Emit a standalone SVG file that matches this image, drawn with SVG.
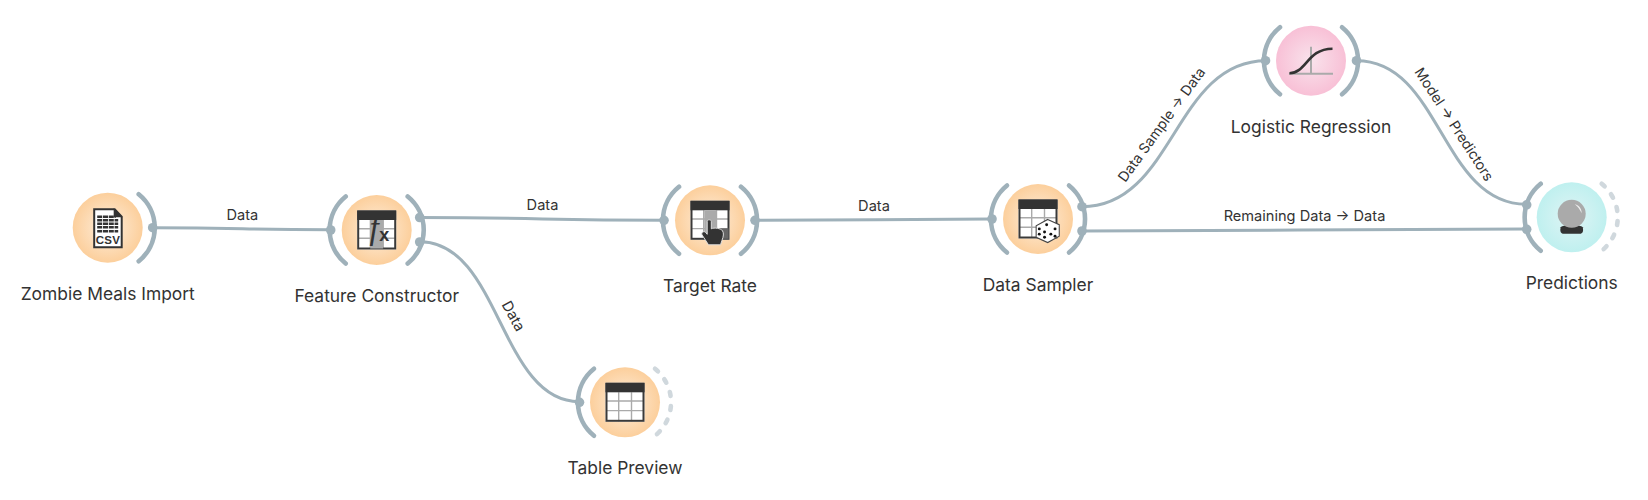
<svg xmlns="http://www.w3.org/2000/svg" width="1648" height="500" viewBox="0 0 1648 500">
<style>
text{font-family:Inter,"Liberation Sans",sans-serif;fill:#333}
.nl{font-size:17.4px;text-anchor:middle}
.el{font-size:14.6px;text-anchor:middle}
.er{font-size:14.2px;text-anchor:middle}
.arc{fill:none;stroke:#9fb1ba;stroke-width:4.6;stroke-linecap:round}
.dash{fill:none;stroke:#d0d8dd;stroke-width:4.6;stroke-linecap:round;stroke-dasharray:4 10}
.dot{fill:#9fb1ba}
.conn{fill:none;stroke:#9fb1ba;stroke-width:3}
.gl{stroke:#aaa;stroke-width:1.4;fill:none}
</style>
<defs>
<radialGradient id="o"><stop offset="0" stop-color="#fdeedd"/><stop offset="1" stop-color="#fccf9c"/></radialGradient>
<radialGradient id="p"><stop offset="0" stop-color="#f9e3ec"/><stop offset="1" stop-color="#f8c0d6"/></radialGradient>
<radialGradient id="c"><stop offset="0" stop-color="#e0f4f5"/><stop offset="1" stop-color="#bff0ef"/></radialGradient>
<path id="la" class="arc" d="M-31-33.5A43 43 0 0 0-31 33.5"/>
<path id="ra" class="arc" d="M31-33.5A43 43 0 0 1 31 33.5"/>
<path id="da" class="dash" d="M30-33.5A43 43 0 0 1 30 33.5"/>
<g id="tb">
<rect x="-19.5" y="-19.5" width="39" height="39" fill="#fff"/>
<path class="gl" d="M-6.3-10V19M6.5-10V19M-18-1.3H18M-18 8.3H18"/>
<rect x="-18.5" y="-18.5" width="37" height="37" fill="none" stroke="#3a3a3a" stroke-width="2"/>
<rect x="-19.5" y="-19.5" width="39" height="9.5" fill="#333"/>
</g>
</defs>
<g id="connectors">
<path class="conn" d="M153 227.7C240 227.7 245 229.7 330 229.7"/>
<path class="conn" d="M419.5 217.5C540 217.5 545 220.3 663 220.3"/>
<path class="conn" d="M757 220.3C875 220.3 875 219 991 219"/>
<path class="conn" d="M420 241.7C500 241.7 500 401.7 579.3 401.7"/>
<path class="conn" d="M1082 206.7C1174 206.7 1174 60.7 1266 60.7"/>
<path class="conn" d="M1356.7 60.7C1441 60.7 1441 204.3 1526.7 204.3"/>
<path class="conn" d="M1082 231C1300 231 1300 229 1526.7 229"/>
</g>
<g id="edge-labels">
<text class="el" x="242.3" y="219.8">Data</text>
<text class="el" x="542.5" y="210">Data</text>
<text class="el" x="874" y="210.5">Data</text>
<text class="el" transform="translate(509 318.5) rotate(61)">Data</text>
<text class="er" transform="translate(1165.5 127.5) rotate(-54)">Data Sample → Data</text>
<text class="er" transform="translate(1450 127) rotate(57)">Model → Predictors</text>
<text class="el" x="1304.5" y="221">Remaining Data → Data</text>
</g>
<g id="zombie" transform="translate(107.7 227.7)">
<circle r="35" fill="url(#o)"/>
<use href="#ra"/><circle class="dot" cx="45" r="4.8"/>
<path d="M-13.5-18.5H7L14-11V19.5H-13.5Z" fill="#fff" stroke="#333" stroke-width="2"/>
<path d="M6-19.5V-10.5H15Z" fill="#333"/>
<path d="M-10.5-11H8M-10.5-7.5H10.5M-10.5-4H10.5M-10.5-0.5H10.5M-10.5 3.5H10.5" stroke="#333" stroke-width="2.4" stroke-dasharray="5 0.8" fill="none"/>
<text x="0.3" y="16.3" font-size="11.5" font-weight="700" text-anchor="middle" style="font-family:'Liberation Sans',sans-serif;letter-spacing:.3px">CSV</text>
<text class="nl" y="72">Zombie Meals Import</text>
</g>
<g id="feature" transform="translate(376.7 230)">
<circle r="35" fill="url(#o)"/>
<use href="#la"/><circle class="dot" cx="-46" r="4.8"/>
<use href="#ra"/><circle class="dot" cx="43" cy="-12.5" r="4.8"/><circle class="dot" cx="43" cy="12" r="4.8"/>
<use href="#tb"/>
<rect x="-6.5" y="-10" width="13" height="28.5" fill="#aaa"/>
<text x="-2.5" y="9" font-size="33" font-style="italic" text-anchor="middle" style="font-family:'Liberation Serif',serif">f</text>
<text x="7.6" y="10.5" font-size="18" font-weight="700" text-anchor="middle" style="font-family:'Liberation Sans',sans-serif">x</text>
<text class="nl" y="72">Feature Constructor</text>
</g>
<g id="target" transform="translate(710 220.3)">
<circle r="35" fill="url(#o)"/>
<use href="#la"/><circle class="dot" cx="-46" r="4.8"/>
<use href="#ra"/><circle class="dot" cx="45" r="4.8"/>
<use href="#tb"/>
<rect x="-5.7" y="-10" width="12.3" height="28.5" fill="#aaa"/><rect x="6.6" y="8" width="12" height="10.5" fill="#666"/>
<path d="M-2.8 1C-2.8-1 1.3-1 1.3 1V8.5C4 7 11 8 12.5 10.5S13.5 16 12 20L10.5 24.5H-1.5L-8 14.5C-9 12-6 10.5-4.5 12L-2.8 14Z" fill="#333" stroke="#ddd" stroke-width="1"/>
<text class="nl" y="71.8">Target Rate</text>
</g>
<g id="sampler" transform="translate(1038 219)">
<circle r="35" fill="url(#o)"/>
<use href="#la"/><circle class="dot" cx="-46" r="4.8"/>
<use href="#ra"/><circle class="dot" cx="44" cy="-12.3" r="4.8"/><circle class="dot" cx="44" cy="12" r="4.8"/>
<use href="#tb"/>
<g transform="translate(9.7 12) scale(1.05)">
<path d="M0-11L11-6V5L0 11L-11 6V-5Z" fill="#fff" stroke="#444" stroke-width="1"/>
<g fill="#111"><circle cx="-8" cy="-2" r="1.4"/><circle cx="-3" cy="1" r="1.4"/><circle cx="-8" cy="3" r="1.4"/><circle cx="-3" cy="6" r="1.4"/><circle cx="-1" cy="-6" r="1.4"/><circle cx="7" cy="-2" r="1.4"/><circle cx="3" cy="3" r="1.4"/><circle cx="7" cy="5" r="1.4"/></g>
</g>
<text class="nl" y="71.8">Data Sampler</text>
</g>
<g id="logistic" transform="translate(1311 60.7)">
<circle r="35" fill="url(#p)"/>
<use href="#la"/><circle class="dot" cx="-45.5" r="4.8"/>
<use href="#ra"/><circle class="dot" cx="45.5" r="4.8"/>
<path d="M-22 13H22M0-14V13" stroke="#aaa" stroke-width="2" fill="none"/>
<path d="M-21.5 12.5C-4 12 -4-12 21.5-12" stroke="#333" stroke-width="2.6" fill="none"/>
<text class="nl" y="72">Logistic Regression</text>
</g>
<g id="predictions" transform="translate(1571.7 217.3)">
<circle r="35" fill="url(#c)"/>
<use href="#la"/><circle class="dot" cx="-45" cy="-12.5" r="4.8"/><circle class="dot" cx="-45" cy="12" r="4.8"/>
<use href="#da"/>
<path d="M-11 10C-9 7 9 7 11 10C12 14 11 16.5 8 16.5H-8C-11 16.5-12 14-11 10Z" fill="#333"/>
<circle cy="-3.5" r="14" fill="#aaa"/>
<path d="M3-13C8-12 10-8 10-4C8-8 6-11 3-13Z" fill="#eee"/>
<text class="nl" y="71.3">Predictions</text>
</g>
<g id="table" transform="translate(625 402.3)">
<circle r="35" fill="url(#o)"/>
<use href="#la"/><circle class="dot" cx="-45.5" r="4.8"/>
<use href="#da"/>
<use href="#tb"/>
<text class="nl" y="72">Table Preview</text>
</g>
</svg>
